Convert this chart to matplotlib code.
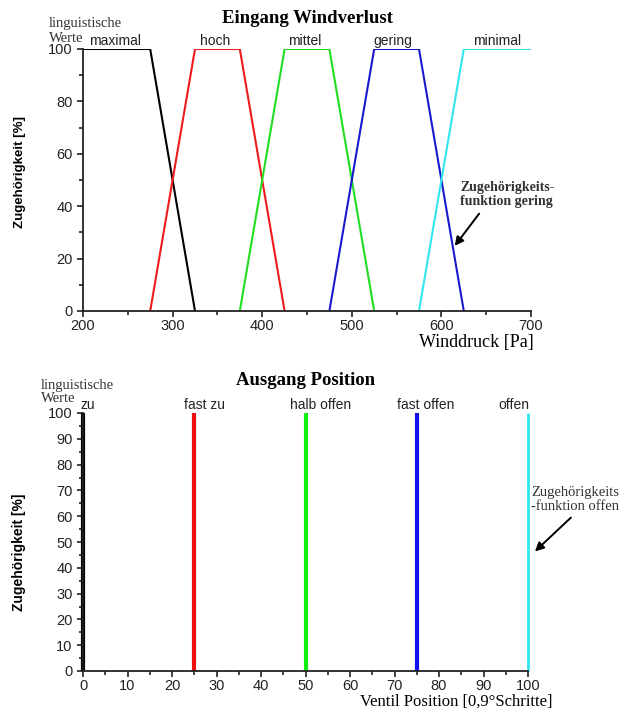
import matplotlib
matplotlib.use("Agg")
import matplotlib.pyplot as plt
from matplotlib.ticker import MultipleLocator

# Top chart data: trapezoid membership functions (x in Pa, y in %)
in_names = ["maximal", "hoch", "mittel", "gering", "minimal"]
in_colors = ["black", "#ee1c1c", "#22dd22", "#1a1acc", "#33e5ee"]
in_x = [
    [200, 275, 325],
    [275, 325, 375, 425],
    [375, 425, 475, 525],
    [475, 525, 575, 625],
    [575, 625, 700],
]
in_y = [
    [100, 100, 0],
    [0, 100, 100, 0],
    [0, 100, 100, 0],
    [0, 100, 100, 0],
    [0, 100, 100],
]
in_label_x = [236, 347, 447, 546, 662]

# Bottom chart data: singleton outputs
out_names = ["zu", "fast zu", "halb offen", "fast offen", "offen"]
out_colors = ["black", "#ee1111", "#11ee11", "#1111ee", "#33e5ee"]
out_pos = [0, 25, 50, 75, 100]
out_val = [100, 100, 100, 100, 100]
out_label_x = [1, 27.4, 53.3, 76.9, 96.9]

sans = "Liberation Sans"
serif = "Liberation Serif"

W, H = 619, 713
fig = plt.figure(figsize=(W / 100, H / 100), dpi=100)

def style(ax):
    for s in ["top", "right"]:
        ax.spines[s].set_visible(False)
    for s in ["left", "bottom"]:
        ax.spines[s].set_linewidth(1.3)
        ax.spines[s].set_color("#222222")
    ax.tick_params(which="both", direction="out", labelsize=10.5, width=1.2,
                   colors="#222222")
    ax.tick_params(which="major", length=4)
    ax.tick_params(which="minor", length=3)
    ax.tick_params(axis="x", pad=2)
    for lab in ax.get_xticklabels() + ax.get_yticklabels():
        lab.set_fontfamily(sans)

# ---- Top axes ----
L, R = 83, 531
ax1 = fig.add_axes([L / W, 1 - 311 / H, (R - L) / W, 262 / H])
for xs, ys, c in zip(in_x, in_y, in_colors):
    ax1.plot(xs, ys, color=c, lw=1.5)
ax1.set_xlim(200, 700)
ax1.set_ylim(0, 100)
ax1.xaxis.set_major_locator(MultipleLocator(100))
ax1.xaxis.set_minor_locator(MultipleLocator(50))
ax1.yaxis.set_major_locator(MultipleLocator(20))
ax1.yaxis.set_minor_locator(MultipleLocator(10))
style(ax1)
for name, lx in zip(in_names, in_label_x):
    ax1.text(lx, 100.5, name, ha="center", va="bottom", fontsize=10, family=sans,
             color="#222222", clip_on=False)
ax1.set_title("Eingang Windverlust", fontsize=13.5, fontweight="bold", family=serif, pad=19)
ax1.set_ylabel("Zugehörigkeit [%]", fontsize=9.5, family=sans, fontweight="bold")
ax1.yaxis.set_label_coords((26 - L) / (R - L), 0.53)
ax1.set_xlabel("Winddruck [Pa]", fontsize=13, family=serif, loc="right")
ax1.xaxis.set_label_coords((534 - L) / (R - L), (311 - 334) / 262)
fig.text(49 / W, 1 - 24 / H, "linguistische", fontsize=10.5, family=serif, va="center", ha="left",
         color="#333333")
fig.text(49 / W, 1 - 38 / H, "Werte", fontsize=10.5, family=serif, va="center", ha="left",
         color="#333333")
ax1.annotate("", xy=(613, 24), xytext=(644, 38),
             arrowprops=dict(arrowstyle="-|>", color="black", lw=1.4, mutation_scale=13))
ax1.text(621, 44.5, "Zugehörigkeits-\nfunktion gering", fontsize=10, family=serif,
         fontweight="bold", color="#333333", ha="left", va="center", linespacing=1.1)

# ---- Bottom axes ----
B2, T2 = 671, 413
ax2 = fig.add_axes([L / W, 1 - B2 / H, (R - 3 - L) / W, (B2 - T2) / H])
for x, v, c in zip(out_pos, out_val, out_colors):
    lw = 2.0 if c == "#33e5ee" else 3.0
    ax2.plot([x, x], [0, v], color=c, lw=lw, solid_capstyle="butt", clip_on=False)
ax2.set_xlim(0, 100)
ax2.set_ylim(0, 100)
ax2.xaxis.set_major_locator(MultipleLocator(10))
ax2.xaxis.set_minor_locator(MultipleLocator(5))
ax2.yaxis.set_major_locator(MultipleLocator(10))
ax2.yaxis.set_minor_locator(MultipleLocator(5))
style(ax2)
for name, lx in zip(out_names, out_label_x):
    ax2.text(lx, 100.5, name, ha="center", va="bottom", fontsize=10, family=sans,
             color="#222222", clip_on=False)
ax2.set_title("Ausgang Position", fontsize=13.5, fontweight="bold", family=serif, pad=20)
ax2.set_ylabel("Zugehörigkeit [%]", fontsize=10, family=sans, fontweight="bold")
ax2.yaxis.set_label_coords((26 - L) / (R - 3 - L), 0.46)
ax2.set_xlabel("Ventil Position [0,9°Schritte]", fontsize=12, family=serif, loc="right")
ax2.xaxis.label.set_va("bottom")
ax2.xaxis.set_label_coords((552 - L) / (R - 3 - L), (B2 - 710) / (B2 - T2))
fig.text(41 / W, 1 - 385 / H, "linguistische", fontsize=10.5, family=serif, va="center", ha="left",
         color="#333333")
fig.text(41 / W, 1 - 398 / H, "Werte", fontsize=10.5, family=serif, va="center", ha="left",
         color="#333333")
ax2.annotate("", xy=(101.1, 45.6), xytext=(110.1, 60.2),
             arrowprops=dict(arrowstyle="-|>", color="black", lw=1.4, mutation_scale=13),
             annotation_clip=False)
ax2.text(100.7, 66.3, "Zugehörigkeits\n-funktion offen", fontsize=10.5, family=serif,
         color="#333333", ha="left", va="center", linespacing=1.1, clip_on=False)

fig.savefig("out.png", dpi=100)
